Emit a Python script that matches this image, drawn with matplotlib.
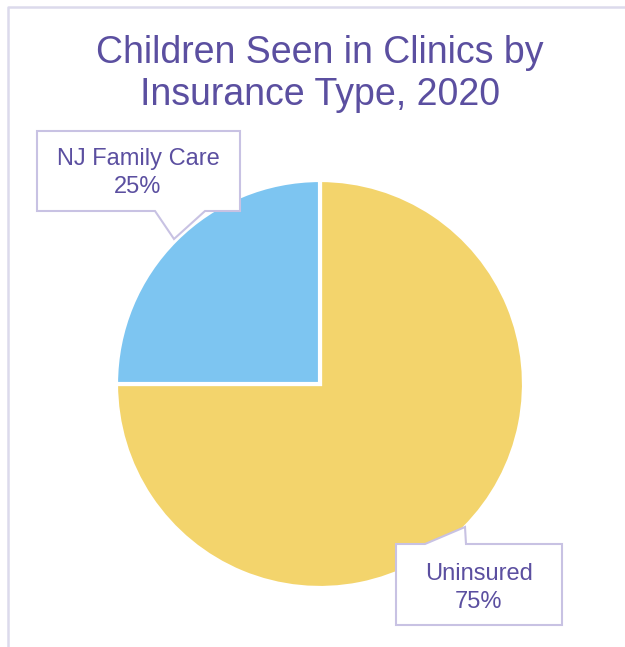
import matplotlib.pyplot as plt
from matplotlib.patches import Polygon
from matplotlib.lines import Line2D

plt.rcParams['font.family'] = ['Liberation Sans', 'DejaVu Sans']

categories = ["Uninsured", "NJ Family Care"]
shares = [75, 25]
colors = ["#F3D46C", "#7DC5F1"]
title = "Children Seen in Clinics by\nInsurance Type, 2020"
purple = "#5B4FA0"
edge = "#C8C2E3"

W, H = 625, 647
fig = plt.figure(figsize=(W / 100, H / 100), dpi=100)

# pie axes: center (320, 384) px, radius 204 px
cx, cy, r = 320, 384, 204
ax = fig.add_axes([(cx - r) / W, (H - cy - r) / H, 2 * r / W, 2 * r / H])
ax.pie(shares, colors=colors, startangle=90, counterclock=False, radius=1,
       wedgeprops=dict(edgecolor="white", linewidth=3))
ax.set_xlim(-1, 1)
ax.set_ylim(-1, 1)
ax.set_aspect("equal")
ax.axis("off")

# overlay in pixel coordinates for frame, title and callouts
ov = fig.add_axes([0, 0, 1, 1], zorder=5)
ov.set_xlim(0, W)
ov.set_ylim(H, 0)
ov.axis("off")

ov.add_line(Line2D([8, 8, W], [H, 7, 7], color="#DCDAEC", lw=1.8))

ov.text(320, 74, title, ha="center", va="center", fontsize=27,
        color=purple, linespacing=1.2)

# callout for NJ Family Care
nj_box = [(37, 131), (240, 131), (240, 211), (205, 211), (174, 239),
          (155, 211), (37, 211)]
ov.add_patch(Polygon(nj_box, closed=True, facecolor="white", edgecolor=edge, lw=1.5))
ov.text(138, 173, f"{categories[1]}\n{shares[1]}%", ha="center", va="center",
        fontsize=17, color=purple, linespacing=1.3)

# callout for Uninsured
un_box = [(396, 544), (425, 544), (465, 527), (466, 544), (562, 544),
          (562, 625), (396, 625)]
ov.add_patch(Polygon(un_box, closed=True, facecolor="white", edgecolor=edge, lw=1.5))
ov.text(479, 588, f"{categories[0]}\n{shares[0]}%", ha="center", va="center",
        fontsize=17, color=purple, linespacing=1.3)

fig.savefig("out.png", dpi=100)
